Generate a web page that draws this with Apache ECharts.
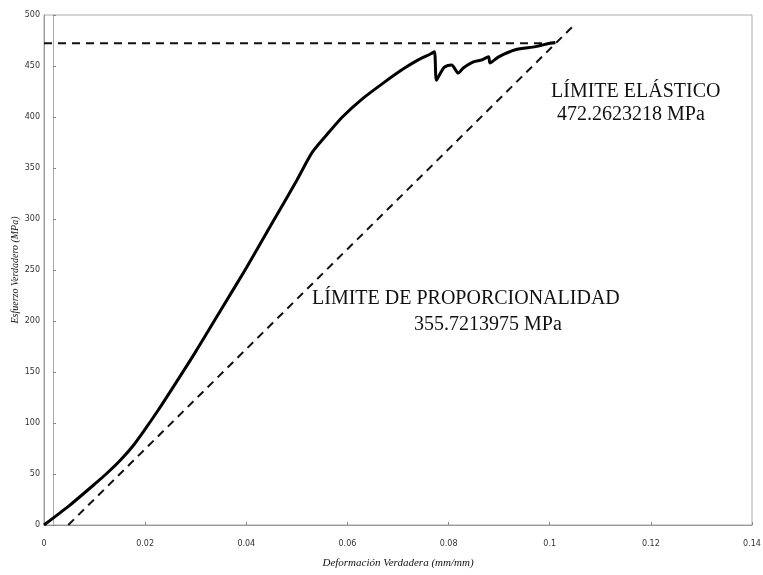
<!DOCTYPE html>
<html><head><meta charset="utf-8">
<script src="https://cdn.jsdelivr.net/npm/echarts@6/dist/echarts.min.js"></script>
<style>html,body{margin:0;padding:0;background:#fff}#c{width:763px;height:575px}</style>
</head><body><div id="c"></div>
<script>
const strainValues = [0,0.005,0.010,0.0125,0.015,0.0175,0.020,0.0225,0.025,0.030,0.035,0.040,0.045,0.050,0.053,0.056,0.059,0.063,0.067,0.071,0.074,0.0765,0.0772,0.0776,0.0785,0.0792,0.0806,0.0819,0.0829,0.0849,0.0866,0.0879,0.0882,0.0899,0.0932,0.0972,0.0998,0.1011];
const stressValues = [0,19,40,51,63,77,94,112,131,170,211,252,295,338,365,383,400,418,433,447,456,462,464,436,444,449,451,443,448,454,456,459,453,459,466,469,472,473];
const elasticLimitX = [0, 0.1011];
const elasticLimitY = [472.26, 472.26];
const offsetLineX = [0.0048, 0.105];
const offsetLineY = [0, 491];
const xTicks = [0,0.02,0.04,0.06,0.08,0.1,0.12,0.14];
const yTicks = [0,50,100,150,200,250,300,350,400,450,500];
const labelElastic = ['LÍMITE ELÁSTICO','472.2623218 MPa'];
const labelProp = ['LÍMITE DE PROPORCIONALIDAD','355.7213975 MPa'];

const zip = (a,b)=>a.map((v,i)=>[v,b[i]]);
const chart = echarts.init(document.getElementById('c'));
const axisLine = {show:true, lineStyle:{color:'#999', width:1}};
chart.setOption({
  animation:false,
  backgroundColor:'#fff',
  grid:{left:44, right:11, top:15, bottom:50, show:true, borderColor:'#aaa', borderWidth:1,
        containLabel:false, outerBoundsMode:'none'},
  xAxis:{type:'value', min:0, max:0.14, interval:0.02,
    name:'Deformación Verdadera (mm/mm)', nameLocation:'middle', nameGap:33,
    nameTextStyle:{fontFamily:'Liberation Serif', fontStyle:'italic', fontSize:11, color:'#111'},
    axisLine:axisLine, axisTick:{show:true, inside:true, length:3, lineStyle:{color:'#888'}},
    splitLine:{show:false},
    axisLabel:{fontFamily:'DejaVu Sans', fontSize:8, color:'#333', margin:15,
      formatter:v=>String(parseFloat(v.toFixed(2)))}},
  yAxis:[{type:'value', min:0, max:500, interval:50,
    name:'Esfuerzo Verdadero (MPa)', nameLocation:'middle', nameGap:24, nameMoveOverlap:false,
    nameTextStyle:{fontFamily:'Liberation Serif', fontStyle:'italic', fontSize:10, color:'#111'},
    axisLine:axisLine, axisTick:{show:false},
    splitLine:{show:false},
    axisLabel:{fontFamily:'DejaVu Sans', fontSize:8, color:'#333', margin:4}},
    {type:'value', min:0, max:500, interval:50, position:'left', offset:-9,
    axisLine:{show:true, lineStyle:{color:'#aaa', width:1}},
    axisTick:{show:true, inside:true, length:3, lineStyle:{color:'#888'}},
    axisLabel:{show:false}, splitLine:{show:false}}],
  series:[
    {type:'line', data:zip(elasticLimitX, elasticLimitY), symbol:'none',
      lineStyle:{color:'#111', width:2, type:[8,6]}, z:2},
    {type:'line', data:zip(offsetLineX, offsetLineY), symbol:'none',
      lineStyle:{color:'#111', width:2, type:[8,6]}, z:2},
    {type:'line', data:zip(strainValues, stressValues), symbol:'none', smooth:0.25,
      lineStyle:{color:'#000', width:3}, z:3}
  ],
  graphic:[
    {type:'text', left:551, top:82, style:{text:labelElastic[0], font:'20px "Liberation Serif"', fill:'#111'}},
    {type:'text', left:557, top:105, style:{text:labelElastic[1], font:'20px "Liberation Serif"', fill:'#111'}},
    {type:'text', left:312, top:289, style:{text:labelProp[0], font:'20px "Liberation Serif"', fill:'#111'}},
    {type:'text', left:414, top:315, style:{text:labelProp[1], font:'20px "Liberation Serif"', fill:'#111'}}
  ]
});
</script></body></html>
